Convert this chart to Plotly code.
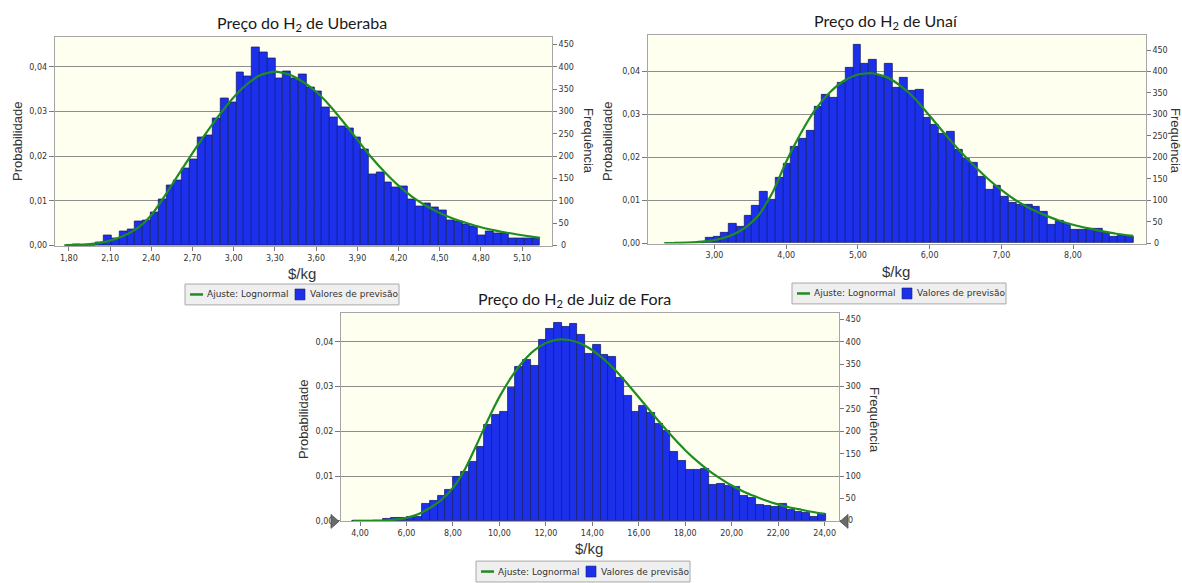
import numpy as np
import plotly.graph_objects as go

W, H = 1182, 583
TRIALS = 10000

# ---------------- Uberaba ----------------
ub_bin_start = 1.772
ub_bin_width = 0.0567
ub_freq = [1, 3, 0, 1, 7, 23, 15, 32, 36, 54,
           56, 74, 103, 135, 146, 173, 193, 243, 247, 285,
           330, 321, 387, 379, 443, 432, 419, 375, 390, 373,
           383, 353, 345, 310, 287, 267, 262, 242, 215, 158,
           164, 142, 130, 133, 103, 87, 95, 85, 78, 56,
           53, 48, 43, 23, 31, 28, 27, 17, 17, 16, 15]
ub_fit_x = [1.78, 1.90, 2.00, 2.10, 2.20, 2.30, 2.40, 2.50, 2.60, 2.70,
            2.80, 2.90, 3.00, 3.10, 3.20, 3.30, 3.40, 3.50, 3.60, 3.70,
            3.80, 3.90, 4.00, 4.10, 4.20, 4.30, 4.40, 4.50, 4.60, 4.70,
            4.80, 4.90, 5.00, 5.10, 5.23]
ub_fit_freq = [1, 2, 5, 11, 22, 39, 68, 112, 160, 207,
               252, 294, 332, 362, 382, 389, 383, 367, 344, 313,
               276, 237, 198, 164, 134, 109, 89, 73, 60, 50,
               41, 34, 28, 23, 17]
ub_xticks = [1.8, 2.1, 2.4, 2.7, 3.0, 3.3, 3.6, 3.9, 4.2, 4.5, 4.8, 5.1]

# ---------------- Unaí ----------------
un_bin_start = 2.44
un_bin_width = 0.1085
un_freq = [1, 1, 2, 4, 12, 15, 25, 45, 39, 64,
           87, 120, 102, 153, 184, 224, 244, 263, 318, 347,
           338, 375, 409, 462, 419, 428, 390, 419, 362, 386,
           356, 358, 292, 277, 254, 260, 217, 197, 187, 155,
           124, 135, 108, 95, 89, 90, 85, 74, 43, 52,
           45, 31, 31, 33, 33, 24, 15, 18, 15]
un_fit_x = [2.30, 2.60, 2.80, 3.00, 3.20, 3.40, 3.60, 3.80, 4.00, 4.20,
            4.40, 4.60, 4.80, 5.00, 5.20, 5.40, 5.60, 5.80, 6.00, 6.20,
            6.40, 6.60, 6.80, 7.00, 7.20, 7.40, 7.60, 7.80, 8.00, 8.20,
            8.40, 8.60, 8.84]
un_fit_freq = [0, 1, 3, 7, 16, 33, 62, 115, 190, 255,
               310, 350, 378, 393, 396, 387, 366, 336, 297, 257,
               219, 184, 152, 124, 100, 81, 66, 53, 43, 35,
               28, 22, 17]
un_xticks = [3, 4, 5, 6, 7, 8]

# ---------------- Juiz de Fora ----------------
jf_bin_start = 3.67
jf_bin_width = 0.334
jf_freq = [1, 1, 1, 1, 4, 6, 6, 10, 10, 38,
           44, 55, 70, 98, 109, 132, 165, 215, 236, 244,
           297, 345, 360, 347, 404, 429, 443, 434, 439, 415,
           373, 393, 371, 367, 319, 280, 244, 258, 242, 216,
           201, 155, 134, 113, 113, 117, 80, 83, 79, 77,
           55, 52, 35, 33, 31, 39, 24, 21, 18, 10, 16]
jf_fit_x = [3.70, 4.50, 5.00, 5.50, 6.00, 6.50, 7.00, 7.50, 8.00, 8.50,
            9.00, 9.50, 10.00, 10.50, 11.00, 11.50, 12.00, 12.50, 13.00, 13.50,
            14.00, 14.50, 15.00, 15.50, 16.00, 16.50, 17.00, 17.50, 18.00, 18.50,
            19.00, 19.50, 20.00, 20.50, 21.00, 21.50, 22.00, 22.50, 23.00, 23.50,
            24.00]
jf_fit_freq = [0, 0.5, 1, 3, 7, 15, 29, 47, 74, 114,
               168, 225, 277, 320, 355, 381, 397, 405, 404, 396,
               381, 361, 336, 307, 276, 245, 214, 185, 158, 134,
               113, 95, 79, 66, 55, 45, 37, 30, 25, 20,
               16]
jf_xticks = [4, 6, 8, 10, 12, 14, 16, 18, 20, 22, 24]

BLUE = "#1C30EC"
EDGE = "#16206E"
GREEN = "#1F8C22"
GRID = "#8E8E8E"
FRAME = "#A6A6A6"
TXT = "#333333"
TICKFONT = dict(family="DejaVu Sans", size=8, color=TXT)
FREQ_TICKS = list(range(0, 451, 50))
Y_PAD = 1.0  # small headroom below zero


def px(x):
    return x / W


def py(y):
    return 1 - y / H


fig = go.Figure()
annotations = []
shapes = []


def add_panel(i, title, bin_start, bin_width, freq, fit_x, fit_freq, xticks,
              box, xrange, ymax, title_pos, prob_pos, freq_pos, unit_pos, legend_box):
    xa = "x" if i == 1 else f"x{i}"
    yl = "y" if i == 1 else f"y{2 * i - 1}"
    yr = f"y{2 * i}"
    centers = bin_start + bin_width * (np.arange(len(freq)) + 0.5)

    # invisible anchor trace so the probability axis gets its own subplot
    fig.add_trace(go.Scatter(x=[xrange[0]], y=[0], xaxis=xa, yaxis=yl, mode="markers",
                             marker=dict(opacity=0), hoverinfo="skip", showlegend=False))
    fig.add_trace(go.Bar(x=centers, y=freq, width=bin_width, xaxis=xa, yaxis=yr,
                         marker=dict(color=BLUE, line=dict(color=EDGE, width=0.8)),
                         showlegend=False))
    fig.add_trace(go.Scatter(x=fit_x, y=fit_freq, xaxis=xa, yaxis=yr, mode="lines",
                             line=dict(color=GREEN, width=2.2, shape="spline", smoothing=0.6),
                             showlegend=False))

    x0, y0, x1, y1 = box
    xdom = [px(x0), px(x1)]
    ydom = [py(y1), py(y0)]
    key_x = "xaxis" if i == 1 else f"xaxis{i}"
    key_yl = "yaxis" if i == 1 else f"yaxis{2 * i - 1}"
    key_yr = f"yaxis{2 * i}"
    fig.layout[key_x] = dict(domain=xdom, range=xrange, anchor=yl, tickvals=xticks,
                             tickformat=".2f", ticks="outside", ticklen=4, tickcolor="#7A7A7A",
                             showline=True, linecolor=FRAME, mirror=True, showgrid=False,
                             zeroline=False, tickfont=TICKFONT)
    fig.layout[key_yl] = dict(domain=ydom, range=[-Y_PAD / TRIALS, ymax / TRIALS], anchor=xa,
                              tickvals=[0, 0.01, 0.02, 0.03, 0.04],
                              tickformat=".2f", ticks="outside", ticklen=5,
                              tickcolor="#7A7A7A", showgrid=True, gridcolor=GRID, gridwidth=1,
                              showline=True, linecolor=FRAME, mirror=True, zeroline=False,
                              tickfont=TICKFONT)
    fig.layout[key_yr] = dict(overlaying=yl, side="right", anchor=xa, range=[-Y_PAD, ymax],
                              tickvals=FREQ_TICKS,
                              ticktext=["" if v == 0 else str(v) for v in FREQ_TICKS],
                              ticks="outside", ticklen=4,
                              tickcolor="#7A7A7A", showgrid=False, showline=False,
                              zeroline=False, tickfont=TICKFONT)

    # zero label of the frequency axis
    zero_y = y1 - (y1 - y0) * Y_PAD / (ymax + Y_PAD)
    annotations.append(dict(x=px(x1 + 6.5), y=py(zero_y), xref="paper", yref="paper",
                            text="0", showarrow=False, xanchor="left", yanchor="middle",
                            font=TICKFONT))

    annotations.append(dict(x=px(title_pos[0]), y=py(title_pos[1]), xref="paper", yref="paper",
                            text=title, showarrow=False, xanchor="center", yanchor="middle",
                            font=dict(family="Lato", size=16, color="#1A1A1A")))
    annotations.append(dict(x=px(prob_pos[0]), y=py(prob_pos[1]), xref="paper", yref="paper",
                            text="Probabilidade", textangle=-90, showarrow=False,
                            xanchor="center", yanchor="middle",
                            font=dict(family="Liberation Sans", size=13, color=TXT)))
    annotations.append(dict(x=px(freq_pos[0]), y=py(freq_pos[1]), xref="paper", yref="paper",
                            text="Frequência", textangle=90, showarrow=False,
                            xanchor="center", yanchor="middle",
                            font=dict(family="Liberation Sans", size=13, color=TXT)))
    annotations.append(dict(x=px(unit_pos[0]), y=py(unit_pos[1]), xref="paper", yref="paper",
                            text="$/kg", showarrow=False, xanchor="center", yanchor="middle",
                            font=dict(family="Liberation Sans", size=15, color=TXT)))

    # legend box
    lx0, ly0, lx1, ly1 = legend_box
    ym = ly0 + 10.5
    shapes.append(dict(type="rect", xref="paper", yref="paper", x0=px(lx0), x1=px(lx1),
                       y0=py(ly1), y1=py(ly0), fillcolor="#EFEFEF",
                       line=dict(color="#A8A8A8", width=1), layer="above"))
    shapes.append(dict(type="line", xref="paper", yref="paper", x0=px(lx0 + 5), x1=px(lx0 + 18),
                       y0=py(ym), y1=py(ym), line=dict(color=GREEN, width=2.5), layer="above"))
    shapes.append(dict(type="rect", xref="paper", yref="paper", x0=px(lx0 + 110), x1=px(lx0 + 120),
                       y0=py(ym + 5.5), y1=py(ym - 5.5), fillcolor=BLUE,
                       line=dict(color=EDGE, width=0.6), layer="above"))
    annotations.append(dict(x=px(lx0 + 20), y=py(ym), xref="paper", yref="paper",
                            text="Ajuste: Lognormal", showarrow=False, xanchor="left",
                            yanchor="middle", font=dict(family="DejaVu Sans", size=9, color=TXT)))
    annotations.append(dict(x=px(lx0 + 123), y=py(ym), xref="paper", yref="paper",
                            text="Valores de previsão", showarrow=False, xanchor="left",
                            yanchor="middle", font=dict(family="DejaVu Sans", size=9, color=TXT)))


add_panel(1, "Preço do H<sub>2</sub> de Uberaba", ub_bin_start, ub_bin_width, ub_freq,
          ub_fit_x, ub_fit_freq, ub_xticks,
          box=(54.7, 37.7, 552, 247.7), xrange=[1.697, 5.317], ymax=465.6,
          title_pos=(302, 24), prob_pos=(17, 142), freq_pos=(589, 142),
          unit_pos=(302, 275), legend_box=(185, 286, 399, 307))

add_panel(2, "Preço do H<sub>2</sub> de Unaí", un_bin_start, un_bin_width, un_freq,
          un_fit_x, un_fit_freq, un_xticks,
          box=(647.7, 35, 1145.8, 245.3), xrange=[2.068, 9.015], ymax=485.7,
          title_pos=(886, 22), prob_pos=(607, 142), freq_pos=(1176, 142),
          unit_pos=(896, 273), legend_box=(792, 285, 1006, 306))

add_panel(3, "Preço do H<sub>2</sub> de Juiz de Fora", jf_bin_start, jf_bin_width, jf_freq,
          jf_fit_x, jf_fit_freq, jf_xticks,
          box=(341, 315, 839, 525), xrange=[3.18, 24.62], ymax=464.6,
          title_pos=(574, 302), prob_pos=(303, 422), freq_pos=(875, 423),
          unit_pos=(589, 552), legend_box=(476, 565, 690, 586))

# certainty grabbers on the Juiz de Fora axis
for pts in ([(331, 518), (339, 525), (331, 532)], [(848, 518), (840, 525), (848, 532)]):
    path = "M " + " L ".join(f"{px(a):.5f},{py(b):.5f}" for a, b in pts) + " Z"
    shapes.append(dict(type="path", xref="paper", yref="paper", path=path,
                       fillcolor="#6A6A6A", line=dict(color="#4A4A4A", width=0.8),
                       layer="above"))

fig.update_layout(
    width=W, height=H,
    margin=dict(l=0, r=0, t=0, b=0),
    paper_bgcolor="white",
    plot_bgcolor="#FFFFF0",
    separators=",.",
    bargap=0,
    showlegend=False,
    annotations=annotations,
    shapes=shapes,
)

fig.write_html("out.html")
